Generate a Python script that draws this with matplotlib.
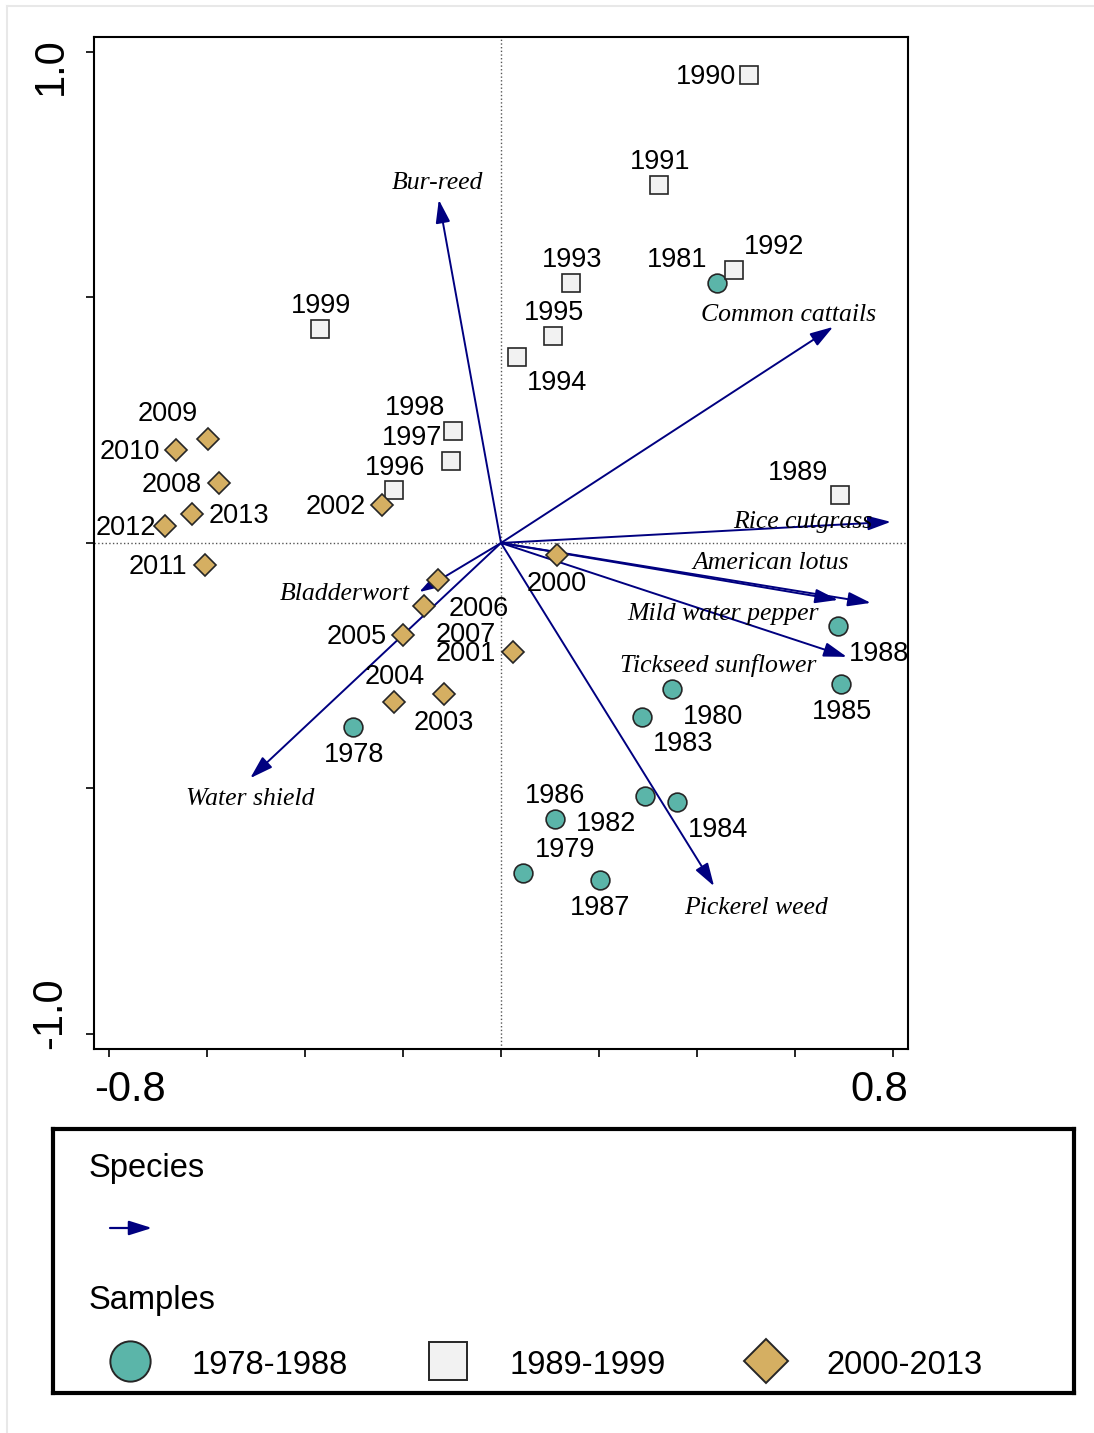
import matplotlib.pyplot as plt
from matplotlib.lines import Line2D

# sample scores, three periods
years_a = [1978, 1979, 1980, 1981, 1982, 1983, 1984, 1985, 1986, 1987, 1988]
x_a = [-0.302, 0.045, 0.349, 0.441, 0.294, 0.288, 0.359, 0.694, 0.110, 0.202, 0.688]
y_a = [-0.375, -0.672, -0.297, 0.530, -0.515, -0.354, -0.527, -0.287, -0.562, -0.686, -0.169]

years_b = [1989, 1990, 1991, 1992, 1993, 1994, 1995, 1996, 1997, 1998, 1999]
x_b = [0.692, 0.506, 0.322, 0.476, 0.143, 0.033, 0.106, -0.218, -0.102, -0.098, -0.369]
y_b = [0.098, 0.953, 0.729, 0.556, 0.530, 0.379, 0.422, 0.108, 0.167, 0.228, 0.436]

years_c = [2000, 2001, 2002, 2003, 2004, 2005, 2006, 2007, 2008, 2009, 2010, 2011, 2012, 2013]
x_c = [0.114, 0.024, -0.243, -0.116, -0.218, -0.200, -0.129, -0.157, -0.576, -0.598, -0.663, -0.604, -0.686, -0.631]
y_c = [-0.024, -0.222, 0.077, -0.308, -0.324, -0.187, -0.075, -0.128, 0.122, 0.212, 0.189, -0.045, 0.035, 0.059]

# species arrows
species = ['Bur-reed', 'Common cattails', 'Rice cutgrass', 'American lotus', 'Mild water pepper',
           'Tickseed sunflower', 'Pickerel weed', 'Water shield', 'Bladderwort']
sp_x = [-0.127, 0.678, 0.796, 0.755, 0.688, 0.706, 0.435, -0.512, -0.167]
sp_y = [0.699, 0.440, 0.043, -0.122, -0.116, -0.232, -0.699, -0.479, -0.100]

# label offsets in pixels (dx right, dy down)
off_a = [(1, 26), (42, -25), (41, 26), (-40, -25), (-39, 26), (41, 25), (41, 26), (1, 26), (0, -25), (0, 26), (41, 26)]
off_b = [(-42, -24), (-43, 0), (1, -25), (40, -25), (1, -25), (40, 24), (1, -25), (1, -24), (-39, -25), (-38, -25), (1, -25)]
off_c = [(0, 27), (-47, 0), (-46, 0), (0, 27), (0, -27), (-46, 0), (41, 27), (42, 27), (-47, 0), (-40, -27), (-46, 0), (-47, 0), (-39, 0), (47, 0)]
off_sp = [(-1, -19), (-45, -14), (-88, -2), (-100, -42), (-115, 12), (-129, 7), (42, 20), (0, 19), (-74, 0)]

NAVY = '#000080'
TEAL = '#5BB5A9'
GREY = '#F2F2F2'
TAN = '#D5AF62'
EDGE = '#262626'
SANS = 'Liberation Sans'
SERIF = 'Liberation Serif'

fig = plt.figure(figsize=(10.94, 14.33), dpi=100)
ax = fig.add_axes([94 / 1094, 1 - 1048.7 / 1433, 814 / 1094, 1011.7 / 1433])
ax.set_xlim(-0.831, 0.831)
ax.set_ylim(-1.030, 1.0305)

ax.axhline(0, color='#555555', lw=1, ls=':', zorder=1)
ax.axvline(0, color='#555555', lw=1, ls=':', zorder=1)

# arrows
for name, sx, sy, (dx, dy) in zip(species, sp_x, sp_y, off_sp):
    ax.annotate('', xy=(sx, sy), xytext=(0, 0),
                arrowprops=dict(arrowstyle='-|>,head_length=0.7,head_width=0.22',
                                color=NAVY, lw=1.4, mutation_scale=20,
                                shrinkA=0, shrinkB=0), zorder=2)
    ax.annotate(name, xy=(sx, sy), xytext=(dx * 0.72, -(dy + 2) * 0.72), textcoords='offset points',
                ha='center', va='center', fontsize=18.5, family=SERIF, style='italic', zorder=4)

# samples
ax.plot(x_a, y_a, 'o', ms=13.5, mfc=TEAL, mec=EDGE, mew=1.2, zorder=3)
ax.plot(x_b, y_b, 's', ms=12.8, mfc=GREY, mec=EDGE, mew=1.2, zorder=3)
ax.plot(x_c, y_c, 'D', ms=11, mfc=TAN, mec=EDGE, mew=1.2, zorder=3)

for yrs, xs, ys, offs in [(years_a, x_a, y_a, off_a), (years_b, x_b, y_b, off_b), (years_c, x_c, y_c, off_c)]:
    for yr, px, py, (dx, dy) in zip(yrs, xs, ys, offs):
        ax.annotate(str(yr), xy=(px, py), xytext=(dx * 0.72, -(dy + 2) * 0.72), textcoords='offset points',
                    ha='center', va='center', fontsize=19.5, family=SANS, zorder=4)

# axes frame and ticks
for s in ax.spines.values():
    s.set_linewidth(1.5)
ax.set_xticks([-0.8, -0.6, -0.4, -0.2, 0, 0.2, 0.4, 0.6, 0.8])
ax.set_yticks([-1.0, -0.5, 0, 0.5, 1.0])
ax.set_xticklabels([])
ax.set_yticklabels([])
ax.tick_params(direction='out', length=6, width=1.2)
ax.text(0.0, -0.021, '-0.8', transform=ax.transAxes, ha='left', va='top', fontsize=30, family=SANS)
ax.text(1.0, -0.021, '0.8', transform=ax.transAxes, ha='right', va='top', fontsize=30, family=SANS)
ax.text(-0.029, 1.0, '1.0', transform=ax.transAxes, ha='right', va='top', rotation=90, fontsize=30, family=SANS)
ax.text(-0.029, 0.0, '-1.0', transform=ax.transAxes, ha='right', va='bottom', rotation=90, fontsize=30, family=SANS)

# legend box
lg = fig.add_axes([53 / 1094, 1 - 1393 / 1433, 1021 / 1094, 264 / 1433])
lg.set_xlim(53, 1074)
lg.set_ylim(1393, 1129)
lg.set_xticks([])
lg.set_yticks([])
for s in lg.spines.values():
    s.set_linewidth(3)
lg.text(89, 1168, 'Species', ha='left', va='center', fontsize=23.5, family=SANS)
lg.annotate('', xy=(152, 1228), xytext=(110, 1228),
            arrowprops=dict(arrowstyle='-|>,head_length=0.7,head_width=0.22', color=NAVY,
                            lw=1.6, mutation_scale=20, shrinkA=0, shrinkB=0))
lg.text(89, 1300, 'Samples', ha='left', va='center', fontsize=23.5, family=SANS)
lg.plot([130], [1361], 'o', ms=29, mfc=TEAL, mec=EDGE, mew=1.4)
lg.plot([448], [1361], 's', ms=28, mfc=GREY, mec=EDGE, mew=1.4)
lg.plot([766], [1361], 'D', ms=22, mfc=TAN, mec=EDGE, mew=1.4)
lg.text(191, 1365, '1978-1988', ha='left', va='center', fontsize=23.5, family=SANS)
lg.text(509, 1365, '1989-1999', ha='left', va='center', fontsize=23.5, family=SANS)
lg.text(826, 1365, '2000-2013', ha='left', va='center', fontsize=23.5, family=SANS)

# faint outer frame (left and top only)
fig.add_artist(Line2D([7 / 1094, 7 / 1094], [0, 1 - 6 / 1433], transform=fig.transFigure, color='#E8E8E8', lw=1.5))
fig.add_artist(Line2D([7 / 1094, 1], [1 - 6 / 1433, 1 - 6 / 1433], transform=fig.transFigure, color='#E8E8E8', lw=1.5))

fig.savefig('out.png', dpi=100)
